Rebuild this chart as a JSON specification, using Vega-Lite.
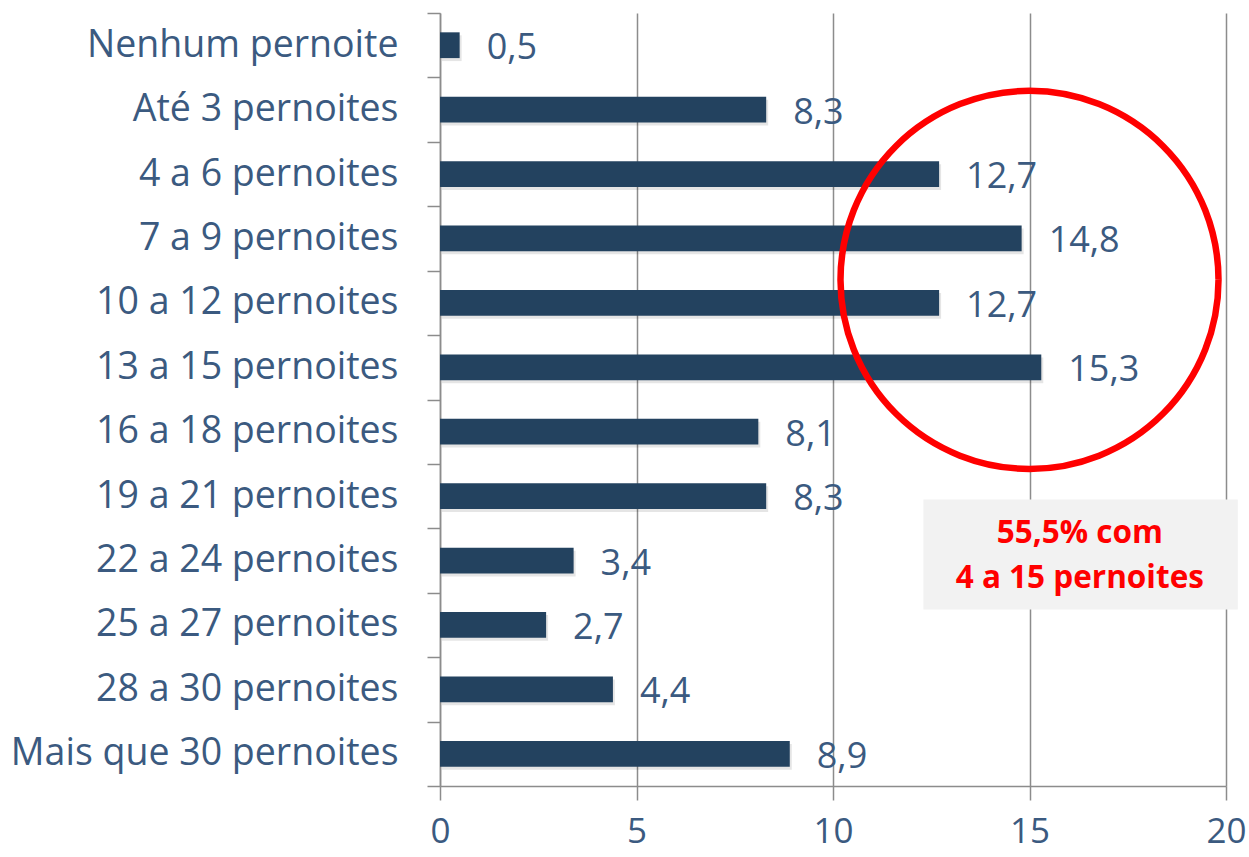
{
  "$schema": "https://vega.github.io/schema/vega-lite/v6.json",
  "autosize": {"type": "none"},
  "padding": {"left": 440, "top": 13, "right": 23, "bottom": 71},
  "width": 786,
  "height": 773,
  "background": "white",
  "config": {
    "view": {"stroke": null},
    "font": "Open Sans",
    "locale": {"number": {"decimal": ",", "thousands": ".", "grouping": [3], "currency": ["", ""]}}
  },
  "datasets": {
    "bars": [
      {"cat": "Nenhum pernoite", "val": 0.5},
      {"cat": "Até 3 pernoites", "val": 8.3},
      {"cat": "4 a 6 pernoites", "val": 12.7},
      {"cat": "7 a 9 pernoites", "val": 14.8},
      {"cat": "10 a 12 pernoites", "val": 12.7},
      {"cat": "13 a 15 pernoites", "val": 15.3},
      {"cat": "16 a 18 pernoites", "val": 8.1},
      {"cat": "19 a 21 pernoites", "val": 8.3},
      {"cat": "22 a 24 pernoites", "val": 3.4},
      {"cat": "25 a 27 pernoites", "val": 2.7},
      {"cat": "28 a 30 pernoites", "val": 4.4},
      {"cat": "Mais que 30 pernoites", "val": 8.9}
    ],
    "circle": [{"cat": "10 a 12 pernoites", "val": 15}],
    "box": [{"cat": "22 a 24 pernoites", "val": 12.3, "val2": 20.3, "mid": 16.28, "note": "55,5% com\n4 a 15 pernoites"}]
  },
  "encoding": {
    "y": {
      "field": "cat", "type": "nominal",
      "scale": {
        "domain": ["Nenhum pernoite", "Até 3 pernoites", "4 a 6 pernoites", "7 a 9 pernoites", "10 a 12 pernoites", "13 a 15 pernoites", "16 a 18 pernoites", "19 a 21 pernoites", "22 a 24 pernoites", "25 a 27 pernoites", "28 a 30 pernoites", "Mais que 30 pernoites"],
        "paddingInner": 0, "paddingOuter": 0
      },
      "axis": {
        "title": null,
        "tickBand": "extent",
        "domainColor": "#8C8C8C", "domainWidth": 1.5,
        "tickColor": "#8C8C8C", "tickWidth": 1.5, "tickSize": 13,
        "labelFont": "Open Sans", "labelFontSize": 37.5, "labelColor": "#3B5A80",
        "labelPadding": 29, "labelLimit": 500, "grid": false
      }
    }
  },
  "layer": [
    {
      "data": {"name": "bars"},
      "mark": {"type": "bar", "height": {"band": 0.4}, "color": "#000000", "opacity": 0.1, "xOffset": 2, "yOffset": 3},
      "encoding": {
        "x": {
          "field": "val", "type": "quantitative",
          "scale": {"domain": [0, 20], "nice": false},
          "axis": {
            "title": null, "values": [0, 5, 10, 15, 20], "format": "d",
            "grid": true, "gridColor": "#8C8C8C", "gridWidth": 1.5,
            "domainColor": "#8C8C8C", "domainWidth": 1.5,
            "tickColor": "#8C8C8C", "tickWidth": 1.5, "tickSize": 14,
            "labelFont": "Open Sans", "labelFontSize": 35, "labelColor": "#3B5A80",
            "labelPadding": 14, "labelFlush": false
          }
        }
      }
    },
    {
      "data": {"name": "bars"},
      "mark": {"type": "bar", "height": {"band": 0.4}, "color": "#23425F"},
      "encoding": {"x": {"field": "val", "type": "quantitative"}}
    },
    {
      "data": {"name": "bars"},
      "mark": {"type": "text", "align": "left", "baseline": "middle", "dx": 27, "dy": 3, "fontSize": 36, "color": "#3B5A80", "font": "Open Sans"},
      "encoding": {
        "x": {"field": "val", "type": "quantitative"},
        "text": {"field": "val", "type": "quantitative", "format": ".1f"}
      }
    },
    {
      "data": {"name": "circle"},
      "mark": {"type": "point", "shape": "circle", "filled": false, "stroke": "#FF0000", "strokeWidth": 6.5, "size": 142884, "yOffset": -23, "opacity": 1},
      "encoding": {"x": {"field": "val", "type": "quantitative"}}
    },
    {
      "data": {"name": "box"},
      "mark": {"type": "bar", "height": 110, "color": "#F2F2F2", "yOffset": -6},
      "encoding": {
        "x": {"field": "val", "type": "quantitative"},
        "x2": {"field": "val2"}
      }
    },
    {
      "data": {"name": "box"},
      "mark": {"type": "text", "align": "center", "baseline": "middle", "lineBreak": "\n", "lineHeight": 45, "fontSize": 31.5, "fontWeight": "bold", "color": "#FF0000", "font": "Open Sans", "yOffset": -27},
      "encoding": {
        "x": {"field": "mid", "type": "quantitative"},
        "text": {"field": "note"}
      }
    }
  ]
}
